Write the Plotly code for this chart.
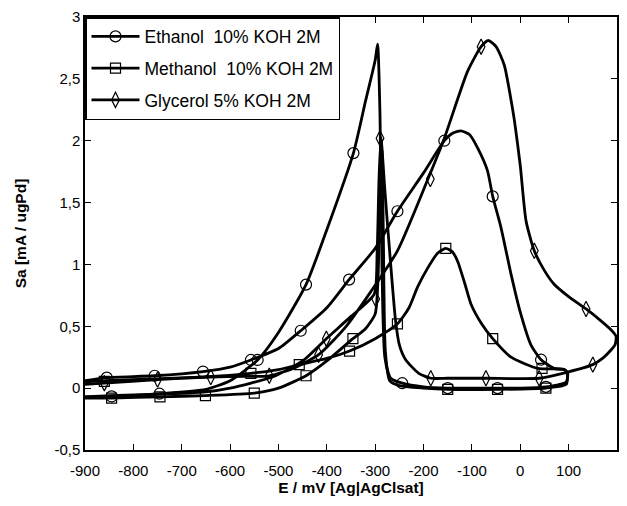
import plotly.graph_objects as go

# ---------------- data (E in mV, Sa in mA/ugPd) ----------------
# Ethanol: forward scan (upper branch) then reverse scan (lower branch)
eth_E = [-900, -855, -756, -656, -600, -557, -500, -454, -400, -354, -300, -254, -200, -157, -140, -123, -105,
         -88, -68, -57, -40, -19, 1, 22, 43, 70, 91, 98,
         95, 53, 0, -47, -100, -150, -200, -244, -268, -280, -286, -290, -295, -300, -320, -345, -400, -443,
         -500, -543, -600, -650, -746, -845, -900]
eth_S = [0.06, 0.085, 0.10, 0.134, 0.17, 0.228, 0.32, 0.464, 0.65, 0.877, 1.13, 1.43, 1.74, 2.0, 2.06, 2.08, 2.05,
         1.94, 1.76, 1.55, 1.30, 0.92, 0.60, 0.35, 0.23, 0.16, 0.15, 0.12,
         0.05, 0.01, 0.0, 0.0, 0.0, 0.0, 0.01, 0.04, 0.08, 0.25, 1.0, 2.2, 2.78, 2.65, 2.32, 1.9, 1.28, 0.837,
         0.45, 0.228, 0.06, -0.01, -0.045, -0.067, -0.07]
eth_mE = [-855, -756, -656, -557, -454, -354, -254, -157, -57, 43, 53, -47, -150, -244, -345, -443, -543, -746, -845]
eth_mS = [0.085, 0.10, 0.134, 0.228, 0.464, 0.877, 1.43, 2.0, 1.55, 0.23, 0.01, 0.0, 0.0, 0.04, 1.9, 0.837, 0.228,
          -0.045, -0.067]

# Methanol
met_E = [-900, -855, -756, -656, -557, -500, -457, -400, -353, -300, -254, -230, -212, -190, -171, -154, -140,
         -130, -115, -102, -80, -57, -19, 36, 91, 97,
         95, 53, -47, -150, -200, -250, -270, -279, -283, -286, -290, -294, -300, -320, -346, -400, -443, -500,
         -550, -651, -745, -845, -900]
met_S = [0.05, 0.06, 0.075, 0.09, 0.12, 0.15, 0.19, 0.24, 0.30, 0.40, 0.52, 0.65, 0.82, 0.98, 1.09, 1.13, 1.10,
         1.03, 0.85, 0.68, 0.52, 0.40, 0.25, 0.16, 0.15, 0.12,
         0.03, 0.0, -0.01, -0.01, 0.0, 0.02, 0.06, 0.3, 1.2, 1.93, 1.6, 0.9, 0.6, 0.48, 0.40, 0.22, 0.10, 0.0,
         -0.04, -0.06, -0.07, -0.08, -0.08]
met_mE = [-860, -557, -457, -353, -254, -154, -57, 45, 53, -47, -150, -346, -443, -550, -651, -745, -845]
met_mS = [0.055, 0.12, 0.19, 0.30, 0.52, 1.13, 0.40, 0.16, 0.0, -0.01, -0.01, 0.40, 0.10, -0.04, -0.06, -0.07, -0.08]

# Glycerol
gly_E = [-900, -860, -750, -640, -570, -519, -470, -417, -360, -309, -254, -192, -157, -109, -81, -66, -50,
         -33, -20, -12, 0, 12, 29, 50, 70, 100, 136, 165, 188, 198,
         196, 188, 170, 150, 98, 39, -71, -150, -185, -210, -237, -250, -258, -270, -280, -288, -292, -296, -302,
         -350, -401, -450, -513, -600, -650, -750, -850, -900]
gly_S = [0.03, 0.04, 0.07, 0.09, 0.095, 0.10, 0.16, 0.27, 0.50, 0.78, 1.11, 1.68, 2.02, 2.56, 2.76, 2.81, 2.76,
         2.61, 2.35, 2.16, 1.8, 1.35, 1.11, 0.95, 0.84, 0.74, 0.64, 0.55, 0.47, 0.42,
         0.35, 0.31, 0.24, 0.19, 0.13, 0.08, 0.08, 0.08, 0.08, 0.12, 0.23, 0.35, 0.55, 1.1, 1.6, 2.02, 1.7, 1.1, 0.76,
         0.58, 0.40, 0.22, 0.09, 0.0, -0.03, -0.05, -0.06, -0.07]
gly_mE = [-860, -750, -640, -519, -417, -401, -299, -290, -186, -81, 29, 136, 150, 39, -71, -185]
gly_mS = [0.04, 0.07, 0.09, 0.10, 0.27, 0.40, 0.72, 2.02, 1.69, 2.76, 1.11, 0.64, 0.19, 0.08, 0.08, 0.08]

series_names = ["Ethanol  10% KOH 2M", "Methanol  10% KOH 2M", "Glycerol 5% KOH 2M"]
x_ticks = [-900, -800, -700, -600, -500, -400, -300, -200, -100, 0, 100, 200]
y_ticks = [-0.5, 0, 0.5, 1, 1.5, 2, 2.5, 3]
y_tick_text = ["-0,5", "0", "0,5", "1", "1,5", "2", "2,5", "3"]

# ---------------- figure ----------------
FONT = "Liberation Sans, Arial"
fig = go.Figure()
curves = [
    (eth_E, eth_S, eth_mE, eth_mS, "circle-open", 11),
    (met_E, met_S, met_mE, met_mS, "square-open", 10),
    (gly_E, gly_S, gly_mE, gly_mS, "diamond-tall-open", 11),
]
for i, (E, S, mE, mS, sym, sz) in enumerate(curves):
    fig.add_trace(go.Scatter(x=E, y=S, mode="lines", line=dict(color="black", width=2.8, shape="spline", smoothing=0.6),
                             showlegend=False, hoverinfo="skip"))
    fig.add_trace(go.Scatter(x=mE, y=mS, mode="markers",
                             marker=dict(symbol=sym, size=sz, color="black", line=dict(width=1.2, color="black")),
                             showlegend=False))
    fig.add_trace(go.Scatter(x=[None], y=[None], mode="lines+markers", name=series_names[i],
                             line=dict(color="black", width=2.8),
                             marker=dict(symbol=sym, size=sz, color="black", line=dict(width=1.2, color="black")),
                             legendgroup=f"g{i}"))

axis_common = dict(showline=True, linewidth=1.5, linecolor="black", mirror="ticks", ticks="inside",
                   ticklen=6, tickwidth=1.2, tickcolor="black", showgrid=False, zeroline=False,
                   tickfont=dict(family=FONT, size=15, color="black"))

fig.update_layout(
    width=627, height=506,
    margin=dict(l=85, r=8, t=15, b=56),
    paper_bgcolor="white", plot_bgcolor="white",
    xaxis=dict(range=[-900, 200], tickvals=x_ticks, ticktext=[str(v) for v in x_ticks], ticklabelstandoff=6,
               title=dict(text="<b>E / mV [Ag|AgClsat]</b>", font=dict(family=FONT, size=15.5, color="black"), standoff=4),
               **axis_common),
    yaxis=dict(range=[-0.5, 3], tickvals=y_ticks, ticktext=y_tick_text,
               title=dict(text="<b>Sa [mA / ugPd]</b>", font=dict(family=FONT, size=15.5, color="black"), standoff=24),
               **axis_common),
    legend=dict(x=0, y=1, xanchor="left", yanchor="top", bgcolor="white", bordercolor="black", borderwidth=1.5,
                font=dict(family=FONT, size=17.5, color="black"), itemwidth=48, tracegroupgap=6),
)

fig.write_html("out.html")
